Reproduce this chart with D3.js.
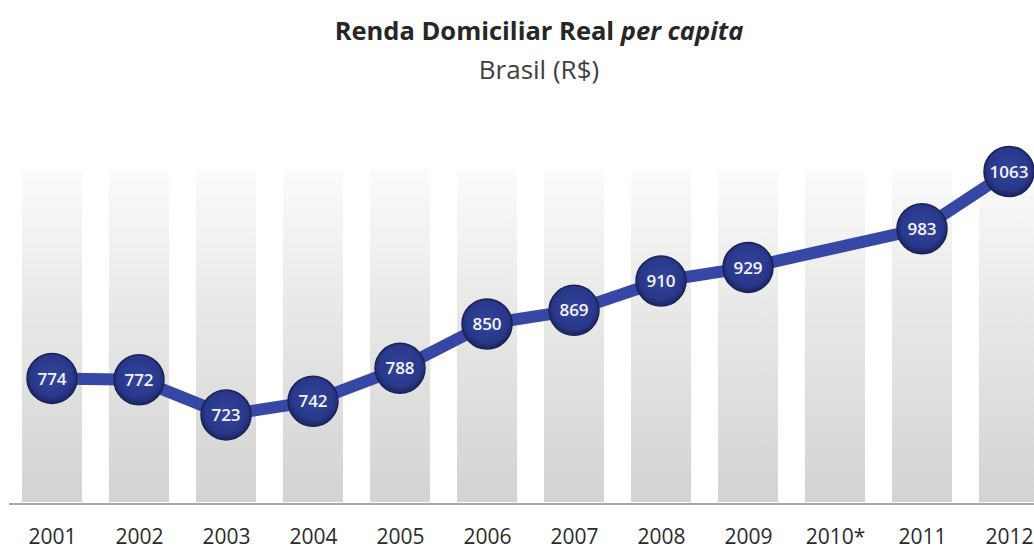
<!DOCTYPE html>
<html><head><meta charset="utf-8">
<script src="https://cdn.jsdelivr.net/npm/d3@7"></script>
<style>body{margin:0;background:#fff}svg{display:block}</style>
</head><body>
<svg id="c" width="1034" height="549"></svg>
<script>
const years = ["2001","2002","2003","2004","2005","2006","2007","2008","2009","2010*","2011","2012"];
const values = [774, 772, 723, 742, 788, 850, 869, 910, 929, null, 983, 1063];
const yDomain = [600, 1065];

const svg = d3.select("#c");
const W = 1034, H = 549;
const x = d3.scalePoint().domain(years).range([52, 1009]);
const y = d3.scaleLinear().domain(yDomain).range([503, 170]);
const font = "'Open Sans', 'Noto Sans', sans-serif";

const defs = svg.append("defs");
const bg = defs.append("linearGradient").attr("id","barg").attr("x1",0).attr("y1",0).attr("x2",0).attr("y2",1);
bg.append("stop").attr("offset","0%").attr("stop-color","#fbfbfb");
bg.append("stop").attr("offset","35%").attr("stop-color","#ebebea");
bg.append("stop").attr("offset","100%").attr("stop-color","#d3d3d3");
const cg = defs.append("radialGradient").attr("id","circg").attr("cx","50%").attr("cy","45%").attr("r","55%");
cg.append("stop").attr("offset","0%").attr("stop-color","#32449c");
cg.append("stop").attr("offset","75%").attr("stop-color","#29388a");
cg.append("stop").attr("offset","100%").attr("stop-color","#1b2560");

// background columns
svg.append("g").selectAll("rect").data(years).join("rect")
  .attr("x", d => x(d) - 30).attr("width", 60)
  .attr("y", y(yDomain[1])).attr("height", y(yDomain[0]) - y(yDomain[1]) - 1)
  .attr("fill", "url(#barg)");

// baseline
svg.append("line").attr("x1", 9).attr("x2", W).attr("y1", 504).attr("y2", 504)
  .attr("stroke", "#a8a8a8").attr("stroke-width", 2);

// x axis labels
const xAxis = d3.axisBottom(x).tickSize(0).tickPadding(0);
const ax = svg.append("g").attr("transform", "translate(0,529)").call(xAxis);
ax.select(".domain").remove();
ax.selectAll("text").attr("font-family", font).attr("font-size", 21).attr("fill", "#2b2b2b");

// line (skips missing year)
const pts = years.map((d,i) => ({year:d, v:values[i]})).filter(d => d.v != null);
svg.append("path").datum(pts)
  .attr("d", d3.line().x(d => x(d.year)).y(d => y(d.v)))
  .attr("fill","none").attr("stroke","#3647a5").attr("stroke-width",12).attr("stroke-linejoin","round");

const g = svg.append("g").selectAll("g").data(pts).join("g")
  .attr("transform", d => `translate(${x(d.year)},${y(d.v)})`);
g.append("circle").attr("r", 25).attr("fill","url(#circg)").attr("stroke","#1a2358").attr("stroke-width",1.5);
g.append("text").text(d => d.v).attr("text-anchor","middle").attr("dy","0.36em")
  .attr("font-family", font).attr("font-size", 17).attr("font-weight", 600).attr("fill","#f4f4ff");

// titles
const t = svg.append("text").attr("x", 539).attr("y", 40).attr("text-anchor","middle")
  .attr("font-family", font).attr("font-size", 25.5).attr("font-weight", 700).attr("fill", "#262626");
t.append("tspan").text("Renda Domiciliar Real ");
t.append("tspan").attr("font-style","italic").text("per capita");
svg.append("text").attr("x", 539).attr("y", 79).attr("text-anchor","middle")
  .attr("font-family", font).attr("font-size", 26).attr("fill", "#404040").text("Brasil (R$)");
</script>
</body></html>
